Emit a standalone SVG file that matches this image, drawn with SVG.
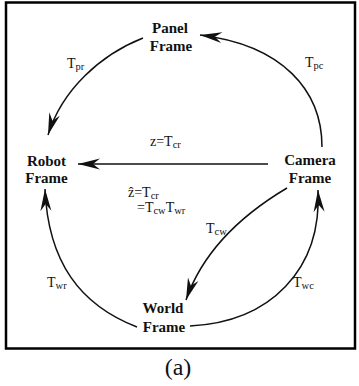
<svg xmlns="http://www.w3.org/2000/svg" width="359" height="386" viewBox="0 0 359 386">
<style>
.node{font-family:"Liberation Serif","Times New Roman",serif;font-weight:bold;font-size:15px;fill:#111;text-anchor:middle}
.lbl{font-family:"Liberation Serif","Times New Roman",serif;font-size:14px;fill:#111}
.sub{font-size:10.5px}
.edge{fill:none;stroke:#111;stroke-width:1.5}
</style>
<defs>
<marker id="ah" viewBox="-23 -6 24 12" refX="0" refY="0" markerWidth="24" markerHeight="12" markerUnits="userSpaceOnUse" orient="auto">
<path d="M0,0 L-22,-5.5 L-15,0 L-22,5.5 Z" fill="#111"/>
</marker>
</defs>
<rect x="6" y="2.5" width="349" height="346" fill="#fff" stroke="#000" stroke-width="2.5"/>
<g id="connectors">
<path class="edge" d="M143,38 C100,55 62,90 48,135" marker-end="url(#ah)"/>
<path class="edge" d="M322,147 C322,90 282,45 200,35" marker-end="url(#ah)"/>
<path class="edge" d="M268,164 L78,164" marker-end="url(#ah)"/>
<path class="edge" d="M287,188 C250,210 205,245 186,300" marker-end="url(#ah)"/>
<path class="edge" d="M190,326 C270,322 322,270 318,190" marker-end="url(#ah)"/>
<path class="edge" d="M137,327 C80,305 48,262 45,189" marker-end="url(#ah)"/>
</g>
<g id="panel"><text class="node" x="170" y="33">Panel</text><text class="node" x="171" y="51">Frame</text></g>
<g id="robot"><text class="node" x="46.5" y="166">Robot</text><text class="node" x="46.5" y="183">Frame</text></g>
<g id="camera"><text class="node" x="310" y="165">Camera</text><text class="node" x="310" y="183">Frame</text></g>
<g id="world"><text class="node" x="163" y="313">World</text><text class="node" x="164" y="332">Frame</text></g>
<g id="labels">
<text class="lbl" x="67" y="68">T<tspan class="sub" dy="2">pr</tspan></text>
<text class="lbl" x="305" y="67">T<tspan class="sub" dy="2">pc</tspan></text>
<text class="lbl" x="150" y="146">z=T<tspan class="sub" dy="2">cr</tspan></text>
<text class="lbl" x="128" y="197">ẑ=T<tspan class="sub" dy="2">cr</tspan></text>
<text class="lbl" x="137" y="212">=T<tspan class="sub" dy="2">cw</tspan><tspan dy="-2">T</tspan><tspan class="sub" dy="2">wr</tspan></text>
<text class="lbl" x="206" y="233">T<tspan class="sub" dy="2">cw</tspan></text>
<text class="lbl" x="47" y="287">T<tspan class="sub" dy="2">wr</tspan></text>
<text class="lbl" x="293" y="287">T<tspan class="sub" dy="2">wc</tspan></text>
</g>
<text x="178" y="375" font-family="'Liberation Serif','Times New Roman',serif" font-size="24" fill="#111" text-anchor="middle">(a)</text>
</svg>
